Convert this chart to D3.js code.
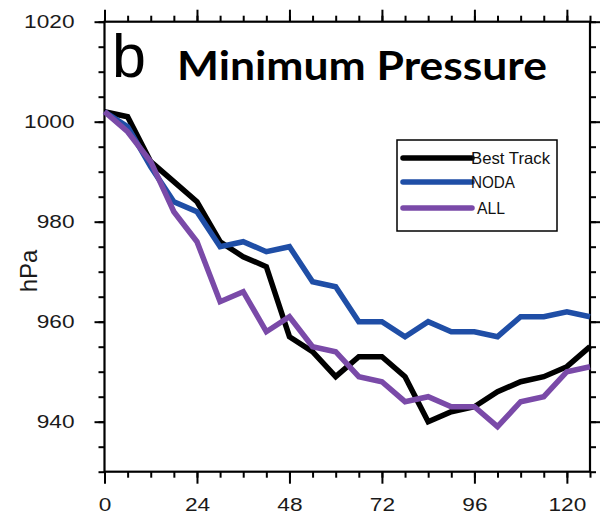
<!DOCTYPE html>
<html>
<head>
<meta charset="utf-8">
<script src="https://cdn.jsdelivr.net/npm/d3@7"></script>
<style>
  html, body { margin: 0; padding: 0; background: #fff; }
  svg { display: block; }
</style>
</head>
<body>
<svg id="chart" width="603" height="520"></svg>
<script>
const hours = [0,6,12,18,24,30,36,42,48,54,60,66,72,78,84,90,96,102,108,114,120,126];
const bestTrack = [1002,1001,992,988,984,976,973,971,957,954,949,953,953,949,940,942,943,946,948,949,951,955];
const noda      = [1002,999,991,984,982,975,976,974,975,968,967,960,960,957,960,958,958,957,961,961,962,961];
const allExp    = [1002,998,992,982,976,964,966,958,961,955,954,949,948,944,945,943,943,939,944,945,950,951];
const seriesNames = ["Best Track","NODA","ALL"];
const seriesColors = ["#000000","#1f4ea6","#7a4aa8"];
const xTicks = [0,24,48,72,96,120];
const yTicks = [940,960,980,1000,1020];

const svg = d3.select("#chart");
const L = 104.5, R = 590, T = 21.7, B = 471.7;
const x = d3.scaleLinear().domain([0,126]).range([L,R]);
const y = d3.scaleLinear().domain([930,1020]).range([B,T]);

const xMinor = d3.range(0,127,6);
const yMinor = d3.range(930,1021,5);

function styleAxis(g){
  g.select(".domain").remove();
  g.selectAll("line").attr("stroke","#000").attr("stroke-width",2);
}
// minor ticks
svg.append("g").attr("transform",`translate(0,${B})`).call(d3.axisBottom(x).tickValues(xMinor).tickSize(6).tickFormat("")).call(styleAxis);
svg.append("g").attr("transform",`translate(0,${T})`).call(d3.axisTop(x).tickValues(xMinor).tickSize(6).tickFormat("")).call(styleAxis);
svg.append("g").attr("transform",`translate(${L},0)`).call(d3.axisLeft(y).tickValues(yMinor).tickSize(6).tickFormat("")).call(styleAxis);
svg.append("g").attr("transform",`translate(${R},0)`).call(d3.axisRight(y).tickValues(yMinor).tickSize(6).tickFormat("")).call(styleAxis);
// major ticks
const xb = svg.append("g").attr("transform",`translate(0,${B})`).call(d3.axisBottom(x).tickValues(xTicks).tickSize(12).tickPadding(14).tickFormat(d3.format("d"))).call(styleAxis);
svg.append("g").attr("transform",`translate(0,${T})`).call(d3.axisTop(x).tickValues(xTicks).tickSize(12).tickFormat("")).call(styleAxis);
const yl = svg.append("g").attr("transform",`translate(${L},0)`).call(d3.axisLeft(y).tickValues(yTicks).tickSize(10).tickPadding(20).tickFormat(d3.format("d"))).call(styleAxis);
svg.append("g").attr("transform",`translate(${R},0)`).call(d3.axisRight(y).tickValues(yTicks).tickSize(10).tickFormat("")).call(styleAxis);

[xb, yl].forEach(g => g.selectAll("text")
  .attr("font-family","'Liberation Sans', Arial, sans-serif")
  .attr("font-size",19).attr("fill","#1a1a1a")
  .each(function(){ const n = this.textContent.length; d3.select(this).attr("textLength", n*12.6).attr("lengthAdjust","spacingAndGlyphs"); }));

// frame
svg.append("rect").attr("x",L).attr("y",T).attr("width",R-L).attr("height",B-T)
  .attr("fill","none").attr("stroke","#000").attr("stroke-width",2.2);

// y label
svg.append("text").attr("transform",`translate(37,271) rotate(-90)`)
  .attr("text-anchor","middle").attr("font-family","'Liberation Sans', Arial, sans-serif")
  .attr("font-size",24).attr("fill","#1a1a1a").text("hPa");

// lines
const line = d3.line().x((d,i)=>x(hours[i])).y(d=>y(d));
const data = [bestTrack, noda, allExp];
data.forEach((s,k)=>{
  svg.append("path").datum(s).attr("d",line).attr("fill","none")
    .attr("stroke",seriesColors[k]).attr("stroke-width",5.5)
    .attr("stroke-linejoin","miter").attr("stroke-linecap","butt");
});

// panel letter & title
svg.append("text").attr("x",112).attr("y",77).attr("font-family","'Liberation Sans', Arial, sans-serif")
  .attr("font-size",61).attr("fill","#000").text("b");
svg.append("text").attr("x",177).attr("y",80).attr("font-family","Lato, 'Open Sans', sans-serif")
  .attr("font-weight","bold").attr("font-size",41).attr("fill","#000")
  .attr("textLength",370).attr("lengthAdjust","spacingAndGlyphs").text("Minimum Pressure");

// legend
const lg = svg.append("g");
lg.append("rect").attr("x",397).attr("y",140).attr("width",160).attr("height",91)
  .attr("fill","#fff").attr("stroke","#000").attr("stroke-width",1.5);
const legY = [158,182,208];
const labelX = [471,471,477];
const labelW = [79,44,28];
seriesNames.forEach((n,k)=>{
  lg.append("line").attr("x1",403).attr("x2",472).attr("y1",legY[k]).attr("y2",legY[k])
    .attr("stroke",seriesColors[k]).attr("stroke-width",5.5).attr("stroke-linecap","round");
  lg.append("text").attr("x",labelX[k]).attr("y",legY[k]+6)
    .attr("font-family","'Liberation Sans', Arial, sans-serif").attr("font-size",16.5)
    .attr("fill","#111").attr("textLength",labelW[k]).attr("lengthAdjust","spacingAndGlyphs").text(n);
});
</script>
</body>
</html>
